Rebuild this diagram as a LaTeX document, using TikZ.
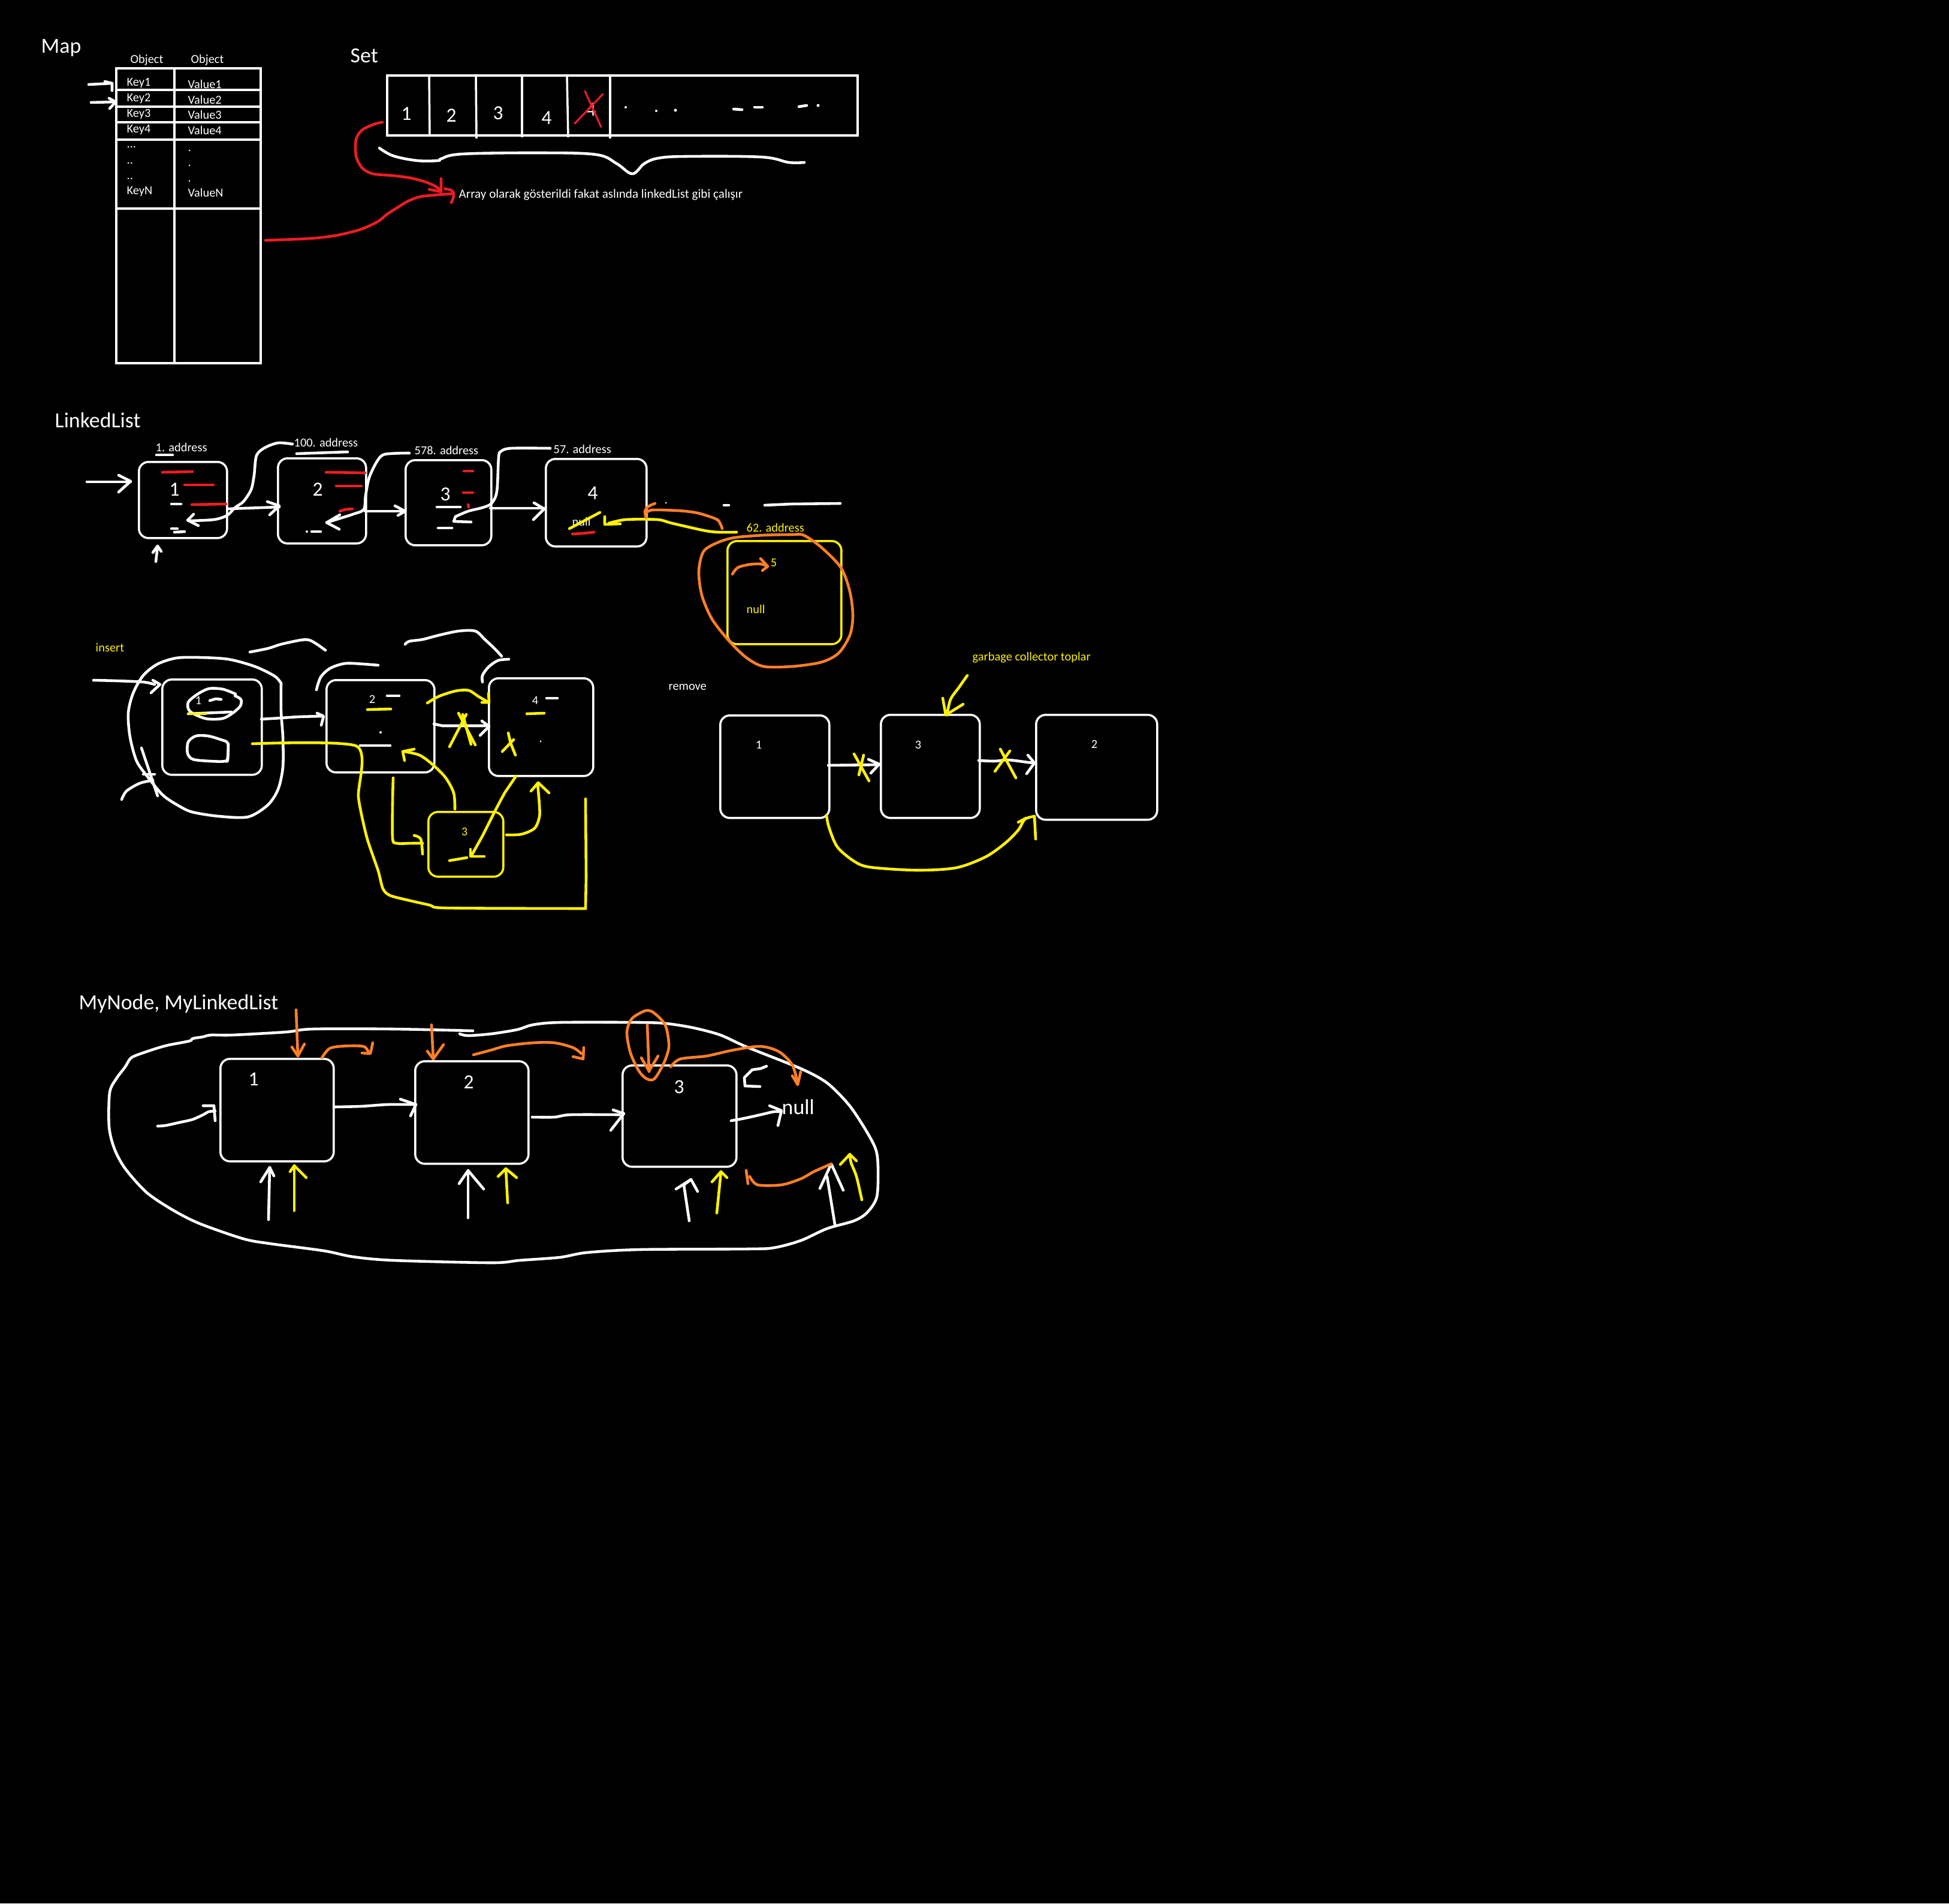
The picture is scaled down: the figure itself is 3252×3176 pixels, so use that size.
\documentclass[tikz,border=0pt]{standalone}
\usepackage{fontspec}
\setmainfont{Carlito}
\definecolor{pyel}{HTML}{FFF200}
\definecolor{pora}{HTML}{FF7F27}
\definecolor{pred}{HTML}{ED1C24}
\tikzset{
  W/.style={draw=white, line width=1.3pt, line cap=round, line join=round},
  Y/.style={draw=pyel, line width=1.3pt, line cap=round, line join=round},
  O/.style={draw=pora, line width=1.3pt, line cap=round, line join=round},
  R/.style={draw=pred, line width=1.3pt, line cap=round, line join=round},
  frame/.style={draw=white, line width=1pt},
  rbox/.style={draw=#1, line width=1pt, rounded corners=0.16cm, anchor=north west, inner sep=0pt},
  rbox/.default=white,
  sm/.style={text=white, inner sep=0pt, anchor=base west, font=\fontsize{5.8}{7}\selectfont},
  big/.style={text=white, inner sep=0pt, anchor=base west, font=\fontsize{10.2}{12}\selectfont},
  dig/.style={text=white, inner sep=0pt, anchor=base, font=\fontsize{9.5}{11}\selectfont},
  sdig/.style={text=white, inner sep=0pt, anchor=base, font=\fontsize{5.8}{7}\selectfont},
}
\begin{document}
\begin{tikzpicture}[x=0.01cm, y=-0.01cm]
\fill[black] (0,0) rectangle (3252,3176);
\useasboundingbox (0,0) rectangle (3252,3176);

% ================= MAP =================
\node[big] (maptitle) at (68,89) {Map};
\node[sm] (obj1) at (217,106) {Object};
\node[sm] (obj2) at (318,106) {Object};
\draw[frame] (194,114) rectangle (435,606);
\draw[frame] (291,114) -- (291,606);
\foreach \yy in {150,178,204,348} {\draw[frame] (194,\yy) -- (435,\yy);}
\draw[frame] (193,233) -- (437,233);
\node[sm] (k1) at (211,144) {Key1};  \node[sm] (v1) at (313,148) {Value1};
\node[sm] (k2) at (211,170) {Key2};  \node[sm] (v2) at (313,174) {Value2};
\node[sm] (k3) at (211,196) {Key3};  \node[sm] (v3) at (313,199) {Value3};
\node[sm] (k4) at (211,222) {Key4};  \node[sm] (v4) at (313,225) {Value4};
\node[sm] (kd1) at (211,247) {...};  \node[sm] (vd1) at (313,253) {.};
\node[sm] (kd2) at (211,274) {..};   \node[sm] (vd2) at (313,278) {.};
\node[sm] (kd3) at (211,300) {..};   \node[sm] (vd3) at (313,304) {.};
\node[sm] (kn) at (211,325) {KeyN};  \node[sm] (vn) at (313,329) {ValueN};
\draw[W] (148,141) -- (187,139) -- (187,151);
\draw[W] (175,136) -- (187,139);
\draw[W] (152,171) -- (193,170);
\draw[W] (182,164) -- (193,170) -- (183,181);
\draw[R] plot[smooth] coordinates {(443,401) (516,398) (560,393) (601,383) (630,370) (645,358) (662,347) (682,335) (702,328) (731,325) (757,323)};

% ================= SET =================
\node[big] (settitle) at (584,105) {Set};
\draw[frame] (646,126) rectangle (1431,226);
\draw[frame] (716,126) -- (717,226);
\draw[frame] (794,124) -- (795,231);
\draw[frame] (871,124) -- (871,229);
\draw[frame] (946,126) -- (948,229);
\draw[frame] (1018,126) -- (1018,231);
\node[dig] (s1) at (678,201) {1};
\node[dig] (s2) at (753,204) {2};
\node[dig] (s3) at (831,200) {3};
\node[dig] (s4) at (912,208) {4};
\node[dig] (s5) at (986,194) {4};
\draw[R, line width=0.9pt] (976,152) -- (1003,212);
\draw[R, line width=0.9pt] (1006,157) -- (959,206);
\fill[white] (1044,179) circle (0.02cm);
\fill[white] (1095,185) circle (0.02cm);
\fill[white] (1127,184) circle (0.025cm);
\draw[W] (1224,182) -- (1238,183);
\draw[W] (1259,179) -- (1272,179);
\draw[W] (1333,178) -- (1346,176);
\fill[white] (1365,176) circle (0.025cm);
\draw[W] plot[smooth, tension=0.6] coordinates {(633,247) (656,260) (696,268) (731,268) (736,265) (771,257) (903,255) (995,258) (1029,273) (1055,290) (1075,273) (1098,264) (1144,261) (1270,262) (1316,271) (1342,271)};
\draw[R] plot[smooth] coordinates {(638,204) (625,207) (604,217) (594,233) (594,260) (604,280) (622,290) (656,293) (685,297) (708,303) (725,310) (736,318)};
\draw[R] (736,298) -- (736,320) -- (716,316);
\draw[R] plot[smooth] coordinates {(742,315) (754,318) (757,327) (753,338)};
\node[sm, font=\fontsize{6.0}{7}\selectfont] (arraytxt) at (765,331) {Array olarak gösterildi fakat aslında linkedList gibi çalışır};

% ================= LINKEDLIST =================
\node[big] (lltitle) at (91,713) {LinkedList};
\node[rbox, minimum width=1.47cm, minimum height=1.27cm] (l1) at (230,769) {};
\node[rbox, minimum width=1.47cm, minimum height=1.42cm] (l2) at (462,763) {};
\node[rbox, minimum width=1.43cm, minimum height=1.42cm] (l3) at (675,766) {};
\node[rbox, minimum width=1.68cm, minimum height=1.46cm] (l4) at (909,764) {};
\node[rbox=pyel, minimum width=1.90cm, minimum height=1.72cm] (l5) at (1212,901) {};
\node[dig] (l1t) at (291,827) {1};
\node[dig] (l2t) at (530,827) {2};
\node[dig] (l3t) at (743,835) {3};
\node[dig] (l4t) at (989,833) {4};
\node[sm] (a1) at (259,753) {1. address};
\node[sm] (a100) at (490,745) {100. address};
\node[sm] (a578) at (691,758) {578. address};
\node[sm] (a57) at (923,756) {57. address};
\node[sm, text=pyel] (a62) at (1245,887) {62. address};
\node[sdig, text=pyel] (five) at (1291,945) {5};
\node[sm, text=pyel] (ynull) at (1245,1023) {null};
\node[sm] (wnull) at (954,877) {null};
% marks box1
\draw[W] (261,759) -- (288,759);
\draw[R] (271,788) -- (321,787);
\draw[R] (308,809) -- (356,809);
\draw[R] (320,842) -- (377,841);
\draw[W] (286,841) -- (302,841);
\draw[W] (286,882) -- (296,882);
\draw[W] (291,888) -- (308,887);
% marks box2
\draw[W] (495,757) -- (580,754);
\draw[R] (544,788) -- (609,789);
\draw[R] (561,811) -- (603,811);
\draw[R] (567,853) -- (576,850) -- (588,849);
\fill[white] (512,887) circle (0.02cm);
\draw[W] (520,887) -- (535,887);
% marks box3
\draw[W] (729,846) -- (768,846);
\draw[R] (774,786) -- (789,786);
\draw[R] (773,822) -- (789,822);
\draw[R] (781,842) -- (782,846);
\draw[W] (731,881) -- (754,881);
% marks box4
\draw[Y] (950,882) -- (1001,855);
\draw[R] (955,891) -- (972,890) -- (991,888);
% arrows
\draw[W] (145,804) -- (218,804);
\draw[W] (198,793) -- (218,803) -- (198,821);
\draw[W] (260,937) -- (263,912);
\draw[W] (255,922) -- (263,911) -- (269,920);
\draw[W] (l1.east |- 0,849) -- (466,846);
\draw[W] (446,837) -- (466,844) -- (450,859);
\draw[W] plot[smooth] coordinates {(488,741) (464,739) (442,747) (428,760) (424,793) (419,817) (406,837) (392,847) (379,860) (357,867) (317,869)};
\draw[W] (323,858) -- (313,868) -- (331,877);
\draw[W] (609,853) -- (676,853);
\draw[W] (659,844) -- (676,853) -- (664,860);
\draw[W] plot[smooth] coordinates {(683,756) (642,758) (629,770) (616,797) (610,827) (607,850) (589,858) (567,865) (545,872)};
\draw[W] (567,859) -- (545,872) -- (566,883);
\draw[W] (818,848) -- (908,848);
\draw[W] (891,839) -- (908,849) -- (890,867);
\draw[W] plot[smooth] coordinates {(918,748) (853,748) (836,753) (832,763) (829,820) (820,840) (805,847) (781,853) (760,862)};
\draw[W] (760,862) -- (757,870) -- (786,871);
\draw[Y] plot[smooth] coordinates {(1229,888) (1198,888) (1174,885) (1121,873) (1097,867) (1044,867) (1016,873)};
\draw[Y] (1009,862) -- (1009,875) -- (1035,874);
\draw[O] plot[smooth] coordinates {(1205,882) (1198,868) (1178,860) (1159,855) (1131,852) (1088,851) (1077,857)};
\draw[O] plot[smooth] coordinates {(1078,864) (1076,853) (1082,845) (1093,840)};
\fill[white] (1111,839) circle (0.015cm);
\draw[W] (1208,843) -- (1216,843);
\draw[W] (1276,843) -- (1320,841) -- (1402,840);
\draw[O] plot[smooth cycle] coordinates {(1341,893) (1370,913) (1403,947) (1418,987) (1423,1027) (1418,1060) (1399,1090) (1370,1105) (1322,1112) (1274,1112) (1245,1097) (1217,1070) (1188,1033) (1171,993) (1166,953) (1174,920) (1198,905) (1226,897) (1274,893) (1322,892)};
\draw[O] plot[smooth] coordinates {(1222,958) (1231,947) (1250,942) (1269,941) (1281,945)};
\draw[O] (1269,932) -- (1281,945) -- (1272,952);

% ================= INSERT =================
\node[sm, text=pyel] (instxt) at (159,1087) {insert};
\node[rbox, minimum width=1.66cm, minimum height=1.59cm] (i1) at (269,1132) {};
\node[rbox, minimum width=1.80cm, minimum height=1.54cm] (i2) at (543,1133) {};
\node[rbox, minimum width=1.74cm, minimum height=1.63cm] (i4) at (814,1130) {};
\node[rbox=pyel, minimum width=1.25cm, minimum height=1.08cm] (i3) at (713,1353) {};
\node[sdig] (i1t) at (331,1175) {1};
\node[sdig] (i2t) at (621,1173) {2};
\node[sdig] (i4t) at (893,1175) {4};
\node[sdig, text=pyel] (i3t) at (775,1394) {3};
\draw[W] (350,1169) -- (360,1166) -- (369,1167);
\draw[W] plot[smooth] coordinates {(393,1158) (372,1150) (349,1149) (330,1158) (314,1172) (317,1187) (343,1199) (371,1199) (388,1190) (401,1178) (402,1167) (392,1161)};
\draw[W] (314,1191) -- (386,1188);
\draw[Y] (314,1191) -- (343,1191);
\draw[W] plot[smooth cycle] coordinates {(327,1228) (347,1228) (368,1234) (380,1240) (380,1262) (376,1270) (350,1270) (322,1267) (313,1257) (314,1238)};
\draw[W] plot[smooth] coordinates {(381,1241) (380,1268) (377,1270)};
\draw[W] plot[smooth] coordinates {(469,1140) (458,1128) (425,1112) (381,1100) (332,1097) (294,1098) (263,1108) (239,1127) (222,1157) (214,1190) (217,1230) (228,1270) (247,1297) (272,1327) (299,1345) (321,1355) (365,1362) (414,1363) (447,1343) (464,1317) (472,1280) (472,1230) (469,1187) (469,1140)};
\draw[W] plot[smooth] coordinates {(156,1135) (195,1136) (239,1138) (258,1142)};
\draw[W] (255,1135) -- (267,1142) -- (252,1156);
\draw[W] (236,1248) -- (263,1328);
\draw[W] (239,1292) -- (258,1292);
\draw[W] plot[smooth] coordinates {(255,1302) (233,1307) (211,1320) (203,1334)};
\draw[W] plot[smooth] coordinates {(417,1088) (447,1082) (469,1075) (502,1068) (516,1068) (529,1075) (543,1085)};
\draw[W] plot[smooth] coordinates {(528,1151) (535,1130) (551,1115) (576,1107) (606,1108) (631,1110)};
\draw[W] plot[smooth] coordinates {(676,1075) (683,1070) (705,1067) (732,1060) (765,1053) (793,1053) (809,1067) (826,1083) (837,1095)};
\draw[W] plot[smooth] coordinates {(805,1138) (805,1127) (815,1113) (831,1102) (849,1100)};
\draw[W] plot[smooth] coordinates {(436,1200) (469,1198) (499,1196) (538,1195)};
\draw[W] (529,1190) -- (540,1195) -- (536,1210);
\draw[W] (646,1161) -- (666,1161);
\draw[Y] (613,1184) -- (652,1183);
\fill[white] (635,1222) circle (0.02cm);
\draw[W] (601,1244) -- (651,1244);
\draw[W] (724,1208) -- (738,1211) -- (815,1211);
\draw[W] (804,1203) -- (816,1212) -- (801,1227);
\draw[Y] (765,1190) -- (793,1243);
\draw[Y] (772,1192) -- (786,1242);
\draw[Y] (778,1192) -- (750,1246);
\draw[Y] plot[smooth] coordinates {(713,1173) (732,1162) (760,1153) (782,1152) (798,1162) (812,1170)};
\draw[Y] (815,1157) -- (816,1172) -- (804,1172);
\draw[W] (912,1165) -- (930,1165);
\draw[Y] (879,1191) -- (908,1190);
\draw[Y] (848,1223) -- (852,1240) -- (860,1260);
\draw[Y] (838,1254) -- (857,1234);
\fill[white] (902,1237) circle (0.015cm);
\draw[Y] plot[smooth] coordinates {(656,1298) (655,1340) (655,1398) (661,1407) (689,1407) (705,1407)};
\draw[Y] plot[smooth] coordinates {(691,1394) (702,1400) (705,1425)};
\draw[Y] plot[smooth] coordinates {(759,1350) (757,1323) (743,1297) (721,1275) (700,1260) (675,1254)};
\draw[Y] (691,1250) -- (672,1254) -- (675,1269);
\draw[Y] (861,1295) -- (842,1323) -- (826,1353) -- (806,1393) -- (787,1427);
\draw[Y] (785,1417) -- (785,1429) -- (808,1429);
\draw[Y] (750,1436) -- (779,1431);
\draw[Y] plot[smooth] coordinates {(845,1393) (870,1392) (892,1382) (900,1363) (900,1343) (897,1307)};
\draw[Y] (886,1320) -- (898,1306) -- (916,1323);
\draw[Y] plot[smooth, tension=0.4] coordinates {(421,1241) (595,1245) (598,1330) (612,1397) (631,1453) (639,1483) (653,1495) (716,1510) (743,1515) (977,1516)};
\draw[Y] (977,1516) -- (978,1463) -- (977,1333);

% ================= REMOVE =================
\node[sm] (remtxt) at (1115,1151) {remove};
\node[rbox, minimum width=1.82cm, minimum height=1.71cm] (r1) at (1200,1192) {};
\node[rbox, minimum width=1.65cm, minimum height=1.72cm] (r3) at (1468,1191) {};
\node[rbox, minimum width=2.02cm, minimum height=1.75cm] (r2) at (1727,1191) {};
\node[sdig] (r1t) at (1266,1249) {1};
\node[sdig] (r3t) at (1532,1249) {3};
\node[sdig] (r2t) at (1826,1248) {2};
\node[sm, text=pyel] (gctxt) at (1622,1102) {garbage collector toplar};
\draw[W] (1382,1277) -- (1468,1276);
\draw[W] (1449,1267) -- (1467,1275) -- (1453,1290);
\draw[Y] (1425,1258) -- (1450,1303);
\draw[Y] (1433,1293) -- (1441,1260);
\draw[W] plot[smooth] coordinates {(1633,1269) (1660,1270) (1682,1268) (1715,1272) (1725,1273)};
\draw[W] (1715,1260) -- (1726,1273) -- (1713,1291);
\draw[Y] (1669,1250) -- (1695,1298);
\draw[Y] (1685,1253) -- (1660,1287);
\draw[Y] plot[smooth] coordinates {(1614,1127) (1600,1147) (1586,1167) (1580,1193)};
\draw[Y] (1573,1165) -- (1578,1193) -- (1607,1175);
\draw[Y] plot[smooth] coordinates {(1379,1360) (1383,1380) (1397,1413) (1425,1437) (1452,1447) (1529,1452) (1595,1448) (1644,1430) (1677,1407) (1699,1385) (1710,1367) (1726,1362)};
\draw[Y] (1726,1362) -- (1728,1400);
\draw[Y] (1699,1372) -- (1712,1365);

% ================= MYNODE =================
\node[big] (mytitle) at (131,1684) {MyNode, MyLinkedList};
\node[rbox, minimum width=1.89cm, minimum height=1.71cm] (m1) at (366,1765) {};
\node[rbox, minimum width=1.89cm, minimum height=1.71cm] (m2) at (691,1769) {};
\node[rbox, minimum width=1.90cm, minimum height=1.69cm] (m3) at (1037,1776) {};
\node[dig] (m1t) at (423,1811) {1};
\node[dig] (m2t) at (782,1816) {2};
\node[dig] (m3t) at (1133,1824) {3};
\node[big] (mnull) at (1304,1859) {null};
% outer loop
\draw[W] plot[smooth, tension=0.5] coordinates {(789,1720) (656,1717) (522,1717) (477,1722) (388,1727) (352,1727) (339,1730) (321,1733) (316,1737) (276,1745) (241,1756) (219,1765) (209,1780) (194,1800) (183,1823) (182,1880) (191,1917) (209,1950) (245,1990) (290,2020) (334,2042) (406,2067) (450,2075) (540,2087) (589,2097) (656,2103) (820,2107) (867,2103) (934,2098) (979,2090) (1068,2085) (1246,2084) (1291,2082) (1336,2070) (1380,2050) (1425,2037) (1447,2023) (1463,1997) (1465,1947) (1461,1917) (1443,1883) (1416,1843) (1380,1807) (1336,1783) (1246,1747) (1202,1727) (1157,1715) (1113,1708) (1068,1706) (934,1706) (889,1710) (863,1718) (820,1725) (781,1728) (767,1725)};
% connectors
\draw[W] plot[smooth] coordinates {(263,1879) (276,1878) (299,1873) (321,1868) (339,1860) (348,1855) (359,1854)};
\draw[W] (339,1845) -- (357,1845) -- (359,1870);
\draw[W] plot[smooth] coordinates {(557,1847) (602,1846) (647,1843) (694,1843)};
\draw[W] (668,1834) -- (694,1843) -- (685,1862);
\draw[W] plot[smooth] coordinates {(888,1864) (925,1864) (952,1860) (1034,1860)};
\draw[W] (1023,1852) -- (1041,1858) -- (1019,1886);
\draw[W] plot[smooth] coordinates {(1220,1870) (1242,1866) (1269,1860) (1291,1855) (1304,1855)};
\draw[W] (1284,1845) -- (1304,1853) -- (1298,1878);
\draw[W] (1279,1779) -- (1269,1783) -- (1255,1785) -- (1242,1798) -- (1243,1812) -- (1268,1813);
% up arrows
\draw[W] (448,2035) -- (450,1948);  \draw[W] (435,1972) -- (450,1948) -- (457,1962);
\draw[Y] (491,2020) -- (491,1945);  \draw[Y] (484,1955) -- (491,1945) -- (511,1965);
\draw[W] (781,2032) -- (781,1953);  \draw[W] (766,1975) -- (781,1953) -- (807,1984);
\draw[Y] (847,2007) -- (844,1950);  \draw[Y] (831,1963) -- (844,1950) -- (862,1965);
\draw[W] (1150,2037) -- (1141,1977) -- (1153,1968);  \draw[W] (1128,1984) -- (1153,1968) -- (1164,1988);
\draw[Y] (1196,2024) -- (1203,1955);  \draw[Y] (1188,1972) -- (1203,1955) -- (1213,1965);
\draw[W] (1393,2043) -- (1380,1963);  \draw[W] (1368,1983) -- (1387,1942) -- (1407,1986);
\draw[Y] plot[smooth] coordinates {(1438,2002) (1429,1963) (1420,1940) (1418,1926)};
\draw[Y] (1402,1943) -- (1418,1926) -- (1429,1937);
% orange
\draw[O] plot[smooth] coordinates {(1245,1953) (1248,1975)};
\draw[O] plot[smooth] coordinates {(1251,1963) (1264,1977) (1304,1977) (1336,1967) (1358,1955) (1387,1942)};
\draw[O] (494,1685) -- (497,1762);
\draw[O] (487,1747) -- (497,1762) -- (508,1742);
\draw[O] plot[smooth] coordinates {(537,1765) (549,1750) (566,1746) (593,1745) (609,1747) (616,1758)};
\draw[O] (622,1740) -- (618,1758) -- (604,1757);
\draw[O] (720,1710) -- (723,1767);
\draw[O] (713,1754) -- (723,1767) -- (740,1743);
\draw[O] plot[smooth] coordinates {(790,1760) (820,1752) (845,1745) (889,1740) (925,1740) (956,1748) (970,1758)};
\draw[O] (974,1748) -- (973,1767) -- (956,1763);
\draw[O] plot[smooth cycle] coordinates {(1075,1687) (1054,1700) (1046,1723) (1052,1757) (1066,1787) (1079,1800) (1092,1800) (1108,1773) (1116,1747) (1113,1720) (1108,1707) (1097,1695) (1086,1687)};
\draw[O] (1080,1710) -- (1083,1788);
\draw[O] (1070,1765) -- (1083,1787) -- (1098,1762);
\draw[O] plot[smooth] coordinates {(1119,1780) (1135,1767) (1179,1762) (1224,1752) (1269,1746) (1300,1755) (1322,1777) (1331,1808)};
\draw[O] (1322,1795) -- (1331,1810) -- (1336,1788);
\end{tikzpicture}
\end{document}
